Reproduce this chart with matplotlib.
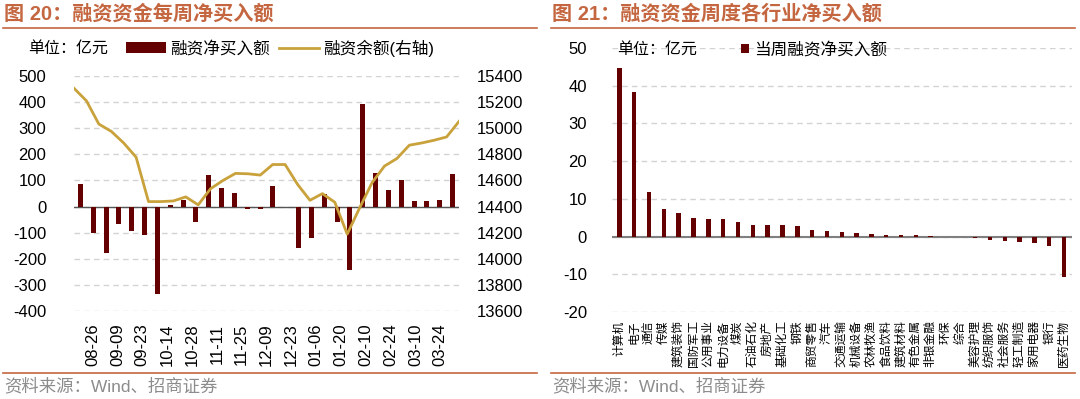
import matplotlib
matplotlib.use("Agg")
import matplotlib.pyplot as plt
import numpy as np

plt.rcParams["font.family"] = ["Liberation Sans", "Noto Sans CJK SC", "DejaVu Sans"]
plt.rcParams["axes.unicode_minus"] = False

# ===== data: left chart (weekly) =====
week_labels = ["08-26", "09-09", "09-23", "10-14", "10-28", "11-11", "11-25", "12-09",
               "12-23", "01-06", "01-20", "02-10", "02-24", "03-10", "03-24"]
net_buy = [88, -103, -176, -65, -95, -110, -334, 6, 27, -58,
           122, 70, 53, -8, -9, 78, -3, -157, -119, 48,
           -61, -243, 393, 127, 62, 100, 20, 23, 27, 123]
balance = [15306, 15210, 15032, 14976, 14887, 14778, 14438, 14438, 14443, 14474,
           14413, 14537, 14600, 14654, 14651, 14641, 14722, 14722, 14570, 14448,
           14499, 14433, 14189, 14390, 14583, 14710, 14768, 14870, 14887, 14908,
           14933, 15052]

# ===== data: right chart (industries) =====
industries = ["计算机", "电子", "通信", "传媒", "建筑装饰", "国防军工", "公用事业", "电力设备",
              "煤炭", "石油石化", "房地产", "基础化工", "钢铁", "商贸零售", "汽车", "交通运输",
              "机械设备", "农林牧渔", "食品饮料", "建筑材料", "有色金属", "非银金融", "环保",
              "综合", "美容护理", "纺织服饰", "社会服务", "轻工制造", "家用电器", "银行", "医药生物"]
ind_buy = [44.6, 38.3, 11.8, 7.4, 6.3, 5.0, 4.7, 4.6, 3.9, 3.2, 3.2, 3.1, 2.9, 1.7, 1.4,
           1.2, 1.05, 0.8, 0.45, 0.3, 0.3, 0.02, -0.05, -0.2, -0.5, -1.0, -1.1, -1.4,
           -1.7, -2.4, -10.8]

BAR = "#640000"
GOLD = "#C9A23C"
TITLE = "#C4663F"
GRID = "#D3D3D3"
W, H = 1080, 399


def fx(px):
    return px / W


def fy(py):
    return 1 - py / H


fig = plt.figure(figsize=(10.8, 3.99), dpi=100)

# ===== headers / footers =====
for x0, x1, title in [(3, 537, "图 20：融资资金每周净买入额"), (551, 1075, "图 21：融资资金周度各行业净买入额")]:
    fig.text(fx(x0 + 1), fy(14), title, color=TITLE, fontsize=14.5, fontweight="bold", va="center")
    fig.add_artist(plt.Line2D([fx(x0), fx(x1)], [fy(27.5), fy(27.5)], color=TITLE, lw=1.2))
    fig.add_artist(plt.Line2D([fx(x0), fx(x1)], [fy(373), fy(373)], color=TITLE, lw=1.2))
    fig.text(fx(x0 + 1), fy(386), "资料来源：Wind、招商证券", color="#8C8C8C", fontsize=12.5, va="center")

# ===== left chart =====
ax = fig.add_axes([fx(74), fy(311), fx(459 - 74), (311 - 76) / H])
x = np.arange(len(net_buy))
bars = ax.bar(x, net_buy, width=0.4, color=BAR, zorder=3, label="融资净买入额")
ax.axhline(0, color="#555555", lw=1, zorder=2)
ax.set_ylim(-400, 500)
ax.set_yticks(np.arange(-400, 501, 100))
ax.set_xlim(-0.5, len(net_buy) - 0.5)

# balance series sits on its own category axis spanning the full plot width;
# date labels follow that axis, every other category
xl = np.linspace(-0.5, len(net_buy) - 0.5, len(balance))
step = xl[1] - xl[0]
ax.set_xticks(xl[0] + step * (1.5 + 2 * np.arange(len(week_labels))))
ax.set_xticklabels(week_labels, rotation=90)
ax.tick_params(axis="x", length=0, pad=9, labelsize=12)
ax.tick_params(axis="y", length=0, pad=20, labelsize=12)
ax.grid(axis="y", color=GRID, ls=(0, (4, 3)), lw=1)
for s in ax.spines.values():
    s.set_visible(False)

ax2 = ax.twinx()
line, = ax2.plot(xl, balance, color=GOLD, lw=2, zorder=4, label="融资余额(右轴)")
ax2.set_ylim(13600, 15400)
ax2.set_yticks(np.arange(13600, 15401, 200))
ax2.tick_params(axis="y", length=0, pad=13, labelsize=12)
for s in ax2.spines.values():
    s.set_visible(False)

fig.text(fx(28), fy(48), "单位：亿元", fontsize=11.5, va="center")
fig.legend(handles=[bars, line], loc="center left", bbox_to_anchor=(fx(118), fy(48)),
           ncol=2, frameon=False, fontsize=12, borderpad=0, handlelength=2.4,
           handleheight=0.6, handletextpad=0.25, columnspacing=0.5)

# ===== right chart =====
bx = fig.add_axes([fx(612), fy(312), fx(1071.5 - 612), (312 - 48) / H])
xi = np.arange(len(ind_buy))
ibars = bx.bar(xi, ind_buy, width=0.3, color=BAR, zorder=3, label="当周融资净买入额")
bx.axhline(0, color="#808080", lw=1.5, zorder=2)
bx.set_ylim(-20, 50)
bx.set_yticks(np.arange(-20, 51, 10))
bx.set_xlim(-0.5, len(ind_buy) - 0.5)
bx.set_xticks(xi)
bx.set_xticklabels(industries, rotation=90, fontsize=8.5)
bx.tick_params(axis="x", length=0, pad=6)
bx.tick_params(axis="y", length=0, pad=18, labelsize=12)
bx.grid(axis="y", color=GRID, ls=(0, (4, 3)), lw=1)
for s in bx.spines.values():
    s.set_visible(False)

fig.text(fx(617), fy(49), "单位：亿元", fontsize=11.5, va="center")
fig.legend(handles=[ibars], loc="center left", bbox_to_anchor=(fx(733), fy(50)),
           frameon=False, fontsize=12, borderpad=0, handlelength=0.45,
           handleheight=0.45, handletextpad=0.3)

fig.savefig("out.png", dpi=100)
